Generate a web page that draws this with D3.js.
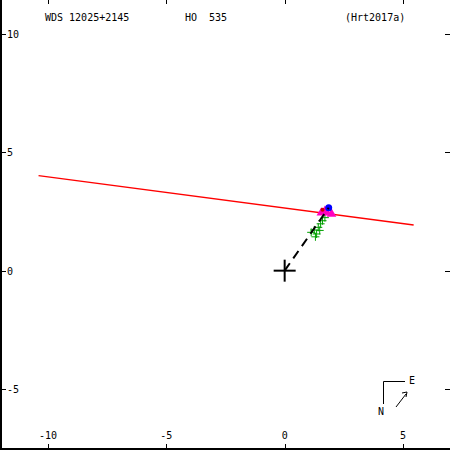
<!DOCTYPE html>
<html>
<head>
<meta charset="utf-8">
<script src="https://cdn.jsdelivr.net/npm/d3@7"></script>
<style>
  body { margin: 0; background: #fff; }
  svg { display: block; }
  text { font-family: "DejaVu Sans Mono", monospace; font-size: 10px; fill: #000; white-space: pre; }
</style>
</head>
<body>
<div id="chart"></div>
<script>
// axis ticks (arcsec)
const xTicks = [-10, -5, 0, 5];
const yTicks = [10, 5, 0, -5];

// header texts
const titleWds = "WDS 12025+2145";
const titleDisc = "HO  535";
const titleRef = "(Hrt2017a)";

// line of nodes / linear fit (red)
const fitLine = [[-10.4, 4.02], [5.45, 1.93]];

// micrometer measures (green plus)
const obsPlus = [
  [1.12, 1.62], [1.30, 1.43], [1.25, 1.72], [1.42, 1.83],
  [1.52, 1.98], [1.48, 1.70], [1.60, 2.11], [1.70, 2.24], [1.35, 1.55]
];

// speckle measures (magenta triangles)
const obsTri = [[1.55, 2.45], [1.78, 2.45], [1.98, 2.40], [1.70, 2.52]];

// latest measure (blue)
const lastObs = [1.86, 2.66];

// red point
const redObs = [[1.60, 2.57]];

const W = 450, H = 450;
const x = d3.scaleLinear().domain([-10, 5]).range([48, 403]);
const y = d3.scaleLinear().domain([10, -5]).range([34, 389]);

const svg = d3.select("#chart").append("svg")
  .attr("width", W).attr("height", H);

// frame: left + bottom
svg.append("line").attr("x1", 1).attr("x2", 1).attr("y1", 0).attr("y2", H)
  .attr("stroke", "#000").attr("stroke-width", 2);
svg.append("line").attr("x1", 0).attr("x2", W).attr("y1", 449).attr("y2", 449)
  .attr("stroke", "#000").attr("stroke-width", 2);

// ticks on all four sides
const tk = svg.append("g").attr("stroke", "#000").attr("stroke-width", 1);
xTicks.forEach(v => {
  const px = Math.round(x(v)) + 0.5;
  tk.append("line").attr("x1", px).attr("x2", px).attr("y1", 0).attr("y2", 4);
  tk.append("line").attr("x1", px).attr("x2", px).attr("y1", 444).attr("y2", 449);
});
yTicks.forEach(v => {
  const py = Math.round(y(v)) + 0.5;
  tk.append("line").attr("x1", 0).attr("x2", 6).attr("y1", py).attr("y2", py);
  tk.append("line").attr("x1", 445).attr("x2", 450).attr("y1", py).attr("y2", py);
});

svg.append("g").selectAll("text").data(xTicks).join("text")
  .attr("x", d => x(d)).attr("y", 439).attr("text-anchor", "middle")
  .text(d => d);
svg.append("g").selectAll("text").data(yTicks).join("text")
  .attr("x", 7).attr("y", d => y(d) + 4)
  .text(d => d);

// header
svg.append("text").attr("x", 45).attr("y", 21).text(titleWds);
svg.append("text").attr("x", 185).attr("y", 21).text(titleDisc);
svg.append("text").attr("x", 345).attr("y", 21).text(titleRef);

// red line
svg.append("line")
  .attr("x1", x(fitLine[0][0])).attr("y1", y(fitLine[0][1]))
  .attr("x2", x(fitLine[1][0])).attr("y2", y(fitLine[1][1]))
  .attr("stroke", "#ff0000").attr("stroke-width", 1.3);

// green pluses
const gp = svg.append("g").attr("stroke", "#00a000").attr("stroke-width", 1);
obsPlus.forEach(p => {
  const cx = x(p[0]), cy = y(p[1]);
  gp.append("line").attr("x1", cx - 4).attr("x2", cx + 4).attr("y1", cy).attr("y2", cy);
  gp.append("line").attr("x1", cx).attr("x2", cx).attr("y1", cy - 4).attr("y2", cy + 4);
});

// magenta triangles
svg.append("g").selectAll("path").data(obsTri).join("path")
  .attr("d", d3.symbol().type(d3.symbolTriangle).size(40))
  .attr("transform", d => `translate(${x(d[0])},${y(d[1])})`)
  .attr("fill", "#ff00c0");

svg.append("g").selectAll("circle").data(redObs).join("circle")
  .attr("cx", d => x(d[0])).attr("cy", d => y(d[1])).attr("r", 2)
  .attr("fill", "#d00000");

// blue last point
svg.append("circle").attr("cx", x(lastObs[0])).attr("cy", y(lastObs[1]))
  .attr("r", 3.5).attr("fill", "#0000ff");

// dashed line from primary to latest measure
svg.append("line")
  .attr("x1", x(0)).attr("y1", y(0))
  .attr("x2", x(lastObs[0])).attr("y2", y(lastObs[1]))
  .attr("stroke", "#000").attr("stroke-width", 2)
  .attr("stroke-dasharray", "9,6");

// primary star cross
const cross = svg.append("g").attr("stroke", "#000").attr("stroke-width", 2);
cross.append("line").attr("x1", x(0) - 11).attr("x2", x(0) + 11).attr("y1", y(0)).attr("y2", y(0));
cross.append("line").attr("x1", x(0)).attr("x2", x(0)).attr("y1", y(0) - 11).attr("y2", y(0) + 11);

// compass
const cp = svg.append("g").attr("stroke", "#000").attr("stroke-width", 1).attr("fill", "none");
cp.append("path").attr("d", "M383.5,404 L383.5,381.5 L405,381.5");
cp.append("line").attr("x1", 396).attr("y1", 407).attr("x2", 406).attr("y2", 394);
cp.append("path").attr("d", "M402,393 L407,392 L406,397").attr("stroke-width", 1);
svg.append("text").attr("x", 409).attr("y", 384).text("E");
svg.append("text").attr("x", 378).attr("y", 415).text("N");
</script>
</body>
</html>
